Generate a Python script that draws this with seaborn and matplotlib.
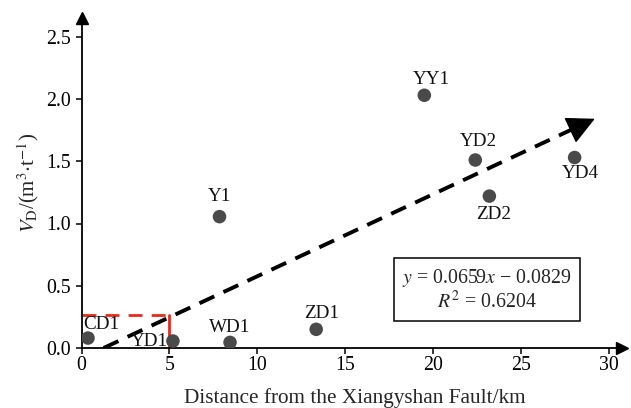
import numpy as np
import pandas as pd
import matplotlib
matplotlib.use("Agg")
import matplotlib.pyplot as plt
import seaborn as sns

# Well data: distance from the fault (km) and desorption volume V_D (m^3/t)
wells = ["CD1", "YD1", "WD1", "ZD1", "Y1", "YY1", "YD2", "ZD2", "YD4"]
distance_km = [0.37, 5.2, 8.45, 13.35, 7.85, 19.5, 22.4, 23.2, 28.05]
vd = [0.08, 0.056, 0.045, 0.15, 1.055, 2.03, 1.51, 1.22, 1.53]
# label offsets in points (dx, dy) and horizontal alignment
label_dx = [9.5, -3.5, 0, 4, 0, 5, 2, 3, 4]
label_dy = [9.5, 0, 11, 11.5, 14.5, 11.5, 13.5, -13, -11.5]
label_ha = ["center", "right", "center", "center", "center", "center", "center", "center", "center"]

# Linear fit reported for the data
slope, intercept, r2 = 0.0659, -0.0829, 0.6204
trend_x = [-intercept / slope, 29.2]
threshold_x = 5.0

df = pd.DataFrame({"well": wells, "distance": distance_km, "vd": vd})

sns.set_style("ticks")
plt.rcParams["font.family"] = ["Liberation Serif", "DejaVu Serif"]
plt.rcParams["mathtext.fontset"] = "stix"

fig = plt.figure(figsize=(6.31, 4.08), dpi=100)
ax = fig.add_axes([81.5 / 631, 60 / 408, (622 - 81.5) / 631, 330 / 408])

sns.scatterplot(data=df, x="distance", y="vd", ax=ax, s=95, color="#4a4a4a",
                edgecolor="none", zorder=4, legend=False)

for w, x, y, dx, dy, ha in zip(wells, distance_km, vd, label_dx, label_dy, label_ha):
    ax.annotate(w, (x, y), xytext=(dx, dy), textcoords="offset points",
                ha=ha, va="center", fontsize=13.8, color="#111111", zorder=5)

# Trend arrow along the fitted line: dashed shaft plus a solid head
tx = np.array(trend_x)
ty = slope * tx + intercept
head_start = tx[1] - 1.5
ax.plot([tx[0], head_start + 0.2], [ty[0], slope * (head_start + 0.2) + intercept],
        color="black", lw=2.8, dashes=(4.2, 2.6), zorder=3, solid_capstyle="butt")
ax.annotate("", xy=(tx[1], ty[1]), xytext=(head_start, slope * head_start + intercept),
            arrowprops=dict(arrowstyle="-|>,head_length=1.0,head_width=0.5", color="black",
                            lw=1.0, mutation_scale=18, shrinkA=0, shrinkB=0), zorder=3)

# Red threshold box at 5 km
ty5 = slope * threshold_x + intercept + 0.02
ax.plot([0, threshold_x], [ty5, ty5], color="#e8291c", lw=2.0, dashes=(5, 3.3), zorder=2)
ax.plot([threshold_x, threshold_x], [ty5, 0], color="#e8291c", lw=2.0, zorder=2)

# Equation box
ax.text(23.07, 0.465, f"$y$ = {slope}$x$ \u2212 {abs(intercept)}\n$R^2$ = {r2}",
        ha="center", va="center", fontsize=14.3, linespacing=1.15,
        bbox=dict(boxstyle="square,pad=0.4", fc="white", ec="black", lw=1.1), zorder=6)

ax.set_xlim(0, (622 - 81.5) / 17.58)
ax.set_ylim(0, 330 / 124.5)
ax.set_xticks([0, 5, 10, 15, 20, 25, 30])
ax.set_yticks([0.0, 0.5, 1.0, 1.5, 2.0, 2.5])
ax.set_yticklabels(["0.0", "0.5", "1.0", "1.5", "2.0", "2.5"])
ax.tick_params(axis="both", labelsize=14.3, length=4, width=1.1, direction="out",
               colors="black")
ax.tick_params(axis="x", pad=2)

sns.despine(ax=ax)
for s in ("left", "bottom"):
    ax.spines[s].set_linewidth(1.3)
    ax.spines[s].set_color("black")

# Axis arrowheads
ax.plot(1, 0, marker=">", ms=9, color="black", transform=ax.transAxes, clip_on=False)
ax.plot(0, 1, marker="^", ms=9, color="black", transform=ax.transAxes, clip_on=False)

ax.set_xlabel("Distance from the Xiangyshan Fault/km", fontsize=15.3)
ax.xaxis.set_label_coords(0.562, 10 / 408, transform=fig.transFigure)
ax.xaxis.label.set_va("center")
ax.set_ylabel(r"$V_{\mathrm{D}}$/(m$^3$$\cdot$t$^{-1}$)", fontsize=15, labelpad=4)

fig.savefig("out.png", dpi=100)
